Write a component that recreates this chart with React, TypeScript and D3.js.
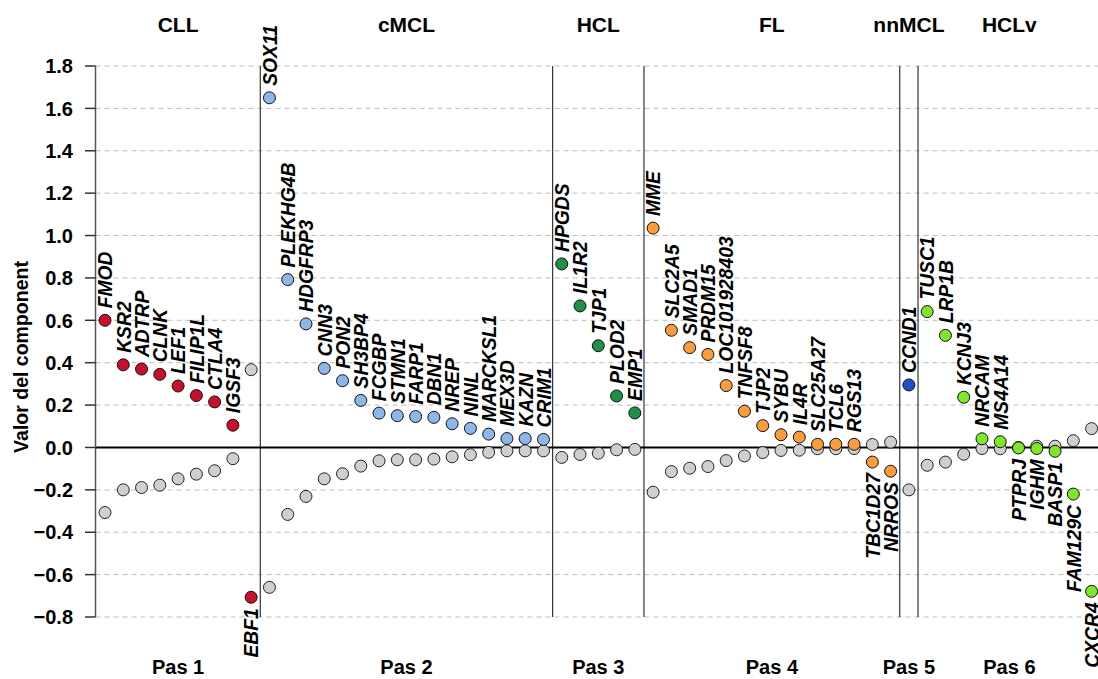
import React from "react";
import * as d3 from "d3";

// ---- Data ----
const groupNames = ["CLL", "cMCL", "HCL", "FL", "nnMCL", "HCLv"];
const stepNames = ["Pas 1", "Pas 2", "Pas 3", "Pas 4", "Pas 5", "Pas 6"];

const cllGenes = ["FMOD", "KSR2", "ADTRP", "CLNK", "LEF1", "FILIP1L", "CTLA4", "IGSF3", "EBF1"];
const cllValues = [0.6, 0.39, 0.37, 0.345, 0.29, 0.245, 0.215, 0.105, -0.707];
const cllOthers = [-0.307, -0.2, -0.189, -0.178, -0.148, -0.126, -0.11, -0.053, 0.367];

const cmclGenes = ["SOX11", "PLEKHG4B", "HDGFRP3", "CNN3", "PON2", "SH3BP4", "FCGBP", "STMN1", "FARP1", "DBN1", "NREP", "NINL", "MARCKSL1", "MEX3D", "KAZN", "CRIM1"];
const cmclValues = [1.65, 0.792, 0.583, 0.373, 0.315, 0.222, 0.162, 0.15, 0.146, 0.142, 0.112, 0.09, 0.063, 0.042, 0.042, 0.038];
const cmclOthers = [-0.66, -0.316, -0.231, -0.148, -0.124, -0.088, -0.063, -0.058, -0.058, -0.055, -0.044, -0.034, -0.023, -0.016, -0.016, -0.016];

const hclGenes = ["HPGDS", "IL1R2", "TJP1", "PLOD2", "EMP1"];
const hclValues = [0.866, 0.668, 0.48, 0.243, 0.163];
const hclOthers = [-0.047, -0.033, -0.027, -0.011, -0.009];

const flGenes = ["MME", "SLC2A5", "SMAD1", "PRDM15", "LOC101928403", "TNFSF8", "TJP2", "SYBU", "IL4R", "SLC25A27", "TCL6", "RGS13", "TBC1D27", "NRROS"];
const flValues = [1.035, 0.553, 0.471, 0.439, 0.292, 0.171, 0.103, 0.06, 0.049, 0.015, 0.015, 0.015, -0.069, -0.112];
const flOthers = [-0.211, -0.114, -0.098, -0.09, -0.062, -0.04, -0.024, -0.014, -0.013, -0.006, -0.006, -0.005, 0.014, 0.025];

const nnmclGenes = ["CCND1"];
const nnmclValues = [0.295];
const nnmclOthers = [-0.2];

const hclvGenes = ["TUSC1", "LRP1B", "KCNJ3", "NRCAM", "MS4A14", "PTPRJ", "IGHM", "BASP1", "FAM129C", "CXCR4"];
const hclvValues = [0.641, 0.529, 0.237, 0.041, 0.027, -0.002, -0.005, -0.018, -0.22, -0.679];
const hclvOthers = [-0.084, -0.069, -0.032, -0.005, -0.006, 0.0, 0.006, 0.006, 0.032, 0.089];

const yTicks = [-0.8, -0.6, -0.4, -0.2, 0.0, 0.2, 0.4, 0.6, 0.8, 1.0, 1.2, 1.4, 1.6, 1.8];

// ---- Styles ----
const groupColors = ["#C8102E", "#8DB6EA", "#1E9146", "#FA9B3C", "#1F4FCB", "#80E62A"];
const grayFill = "#CFCFCF";
const FONT = "'Liberation Sans', Arial, Helvetica, sans-serif";

const groupGenes = [cllGenes, cmclGenes, hclGenes, flGenes, nnmclGenes, hclvGenes];
const groupValues = [cllValues, cmclValues, hclValues, flValues, nnmclValues, hclvValues];
const groupOthers = [cllOthers, cmclOthers, hclOthers, flOthers, nnmclOthers, hclvOthers];

type Pt = { gene: string; value: number; other: number; group: number; idx: number };

export default function App() {
  const points: Pt[] = [];
  const groupStart: number[] = [];
  let k = 0;
  groupGenes.forEach((genes, g) => {
    groupStart.push(k);
    genes.forEach((gene, i) => {
      points.push({ gene, value: groupValues[g][i], other: groupOthers[g][i], group: g, idx: k });
      k++;
    });
  });
  const n = points.length;

  const W = 1098, H = 679;
  const x = d3.scaleLinear().domain([0, n - 1]).range([105, 1091.6]);
  const y = d3.scaleLinear().domain([-0.8, 1.8]).range([617, 66]);
  const axisX = 95.5;
  const r = 6;

  const fmt = (v: number) => {
    const s = Math.abs(v).toFixed(1);
    return v < -1e-9 ? "\u2212" + s : s;
  };

  return (
    <div style={{ position: "fixed", left: 0, top: 0 }}>
      <svg width={W} height={H} style={{ display: "block", background: "#fff" }} fontFamily={FONT}>
        {/* grid */}
        {yTicks.map((t) =>
          Math.abs(t) < 1e-9 ? null : (
            <line key={"g" + t} x1={axisX} x2={W} y1={y(t)} y2={y(t)} stroke="#bdbdbd" strokeWidth={1} strokeDasharray="5,4" />
          )
        )}
        {/* dividers */}
        {groupStart.slice(1).map((s, i) => (
          <line key={"d" + i} x1={x(s - 0.5)} x2={x(s - 0.5)} y1={y(1.8)} y2={y(-0.8)} stroke="#333" strokeWidth={1.2} />
        ))}
        {/* zero line */}
        <line x1={axisX} x2={W} y1={y(0)} y2={y(0)} stroke="#000" strokeWidth={2} />
        {/* y axis */}
        <line x1={axisX} x2={axisX} y1={y(1.8)} y2={y(-0.8)} stroke="#555" strokeWidth={1.5} />
        {yTicks.map((t) => (
          <g key={"t" + t}>
            <line x1={axisX - 10.5} x2={axisX} y1={y(t)} y2={y(t)} stroke="#333" strokeWidth={1.5} />
            <text x={73} y={y(t)} dy="0.36em" textAnchor="end" fontSize={20} fontWeight="bold" fill="#000">
              {fmt(t)}
            </text>
          </g>
        ))}
        <text transform={`translate(28,${357}) rotate(-90)`} textAnchor="middle" fontSize={19.5} fontWeight="bold" fill="#000">
          Valor del component
        </text>
        {/* group headers and step labels */}
        {groupNames.map((gname, g) => {
          const s = groupStart[g];
          const e = s + groupGenes[g].length - 1;
          const cx = (x(s) + x(e)) / 2;
          return (
            <g key={"h" + g}>
              <text x={cx} y={32} textAnchor="middle" fontSize={21} fontWeight="bold" fill="#000">
                {gname}
              </text>
              <text x={cx} y={674} textAnchor="middle" fontSize={20} fontWeight="bold" fill="#000">
                {stepNames[g]}
              </text>
            </g>
          );
        })}
        {/* gray points */}
        {points.map((p) => (
          <circle key={"o" + p.idx} cx={x(p.idx)} cy={y(p.other)} r={r} fill={grayFill} stroke="#222" strokeWidth={1} />
        ))}
        {/* colored points */}
        {points.map((p) => (
          <circle key={"c" + p.idx} cx={x(p.idx)} cy={y(p.value)} r={r} fill={groupColors[p.group]} stroke="#111" strokeWidth={1} />
        ))}
        {/* gene labels */}
        {points.map((p) => {
          const px = x(p.idx) + 7.3;
          const up = p.value >= 0;
          const py = up ? y(p.value) - 12 : y(p.value) + 11;
          return (
            <text
              key={"l" + p.idx}
              transform={`translate(${px},${py}) rotate(-90)`}
              textAnchor={up ? "start" : "end"}
              fontSize={19.3}
              fontWeight="bold"
              fontStyle="italic"
              fill="#000"
            >
              {p.gene}
            </text>
          );
        })}
      </svg>
    </div>
  );
}
